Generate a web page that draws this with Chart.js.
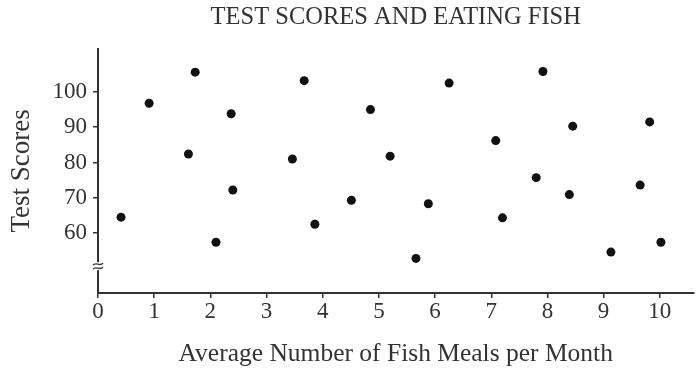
<!DOCTYPE html>
<html>
<head>
<meta charset="utf-8">
<script src="https://cdn.jsdelivr.net/npm/chart.js@4/dist/chart.umd.min.js"></script>
<style>
  html, body { margin: 0; padding: 0; background: #fff; }
  #wrap { width: 698px; height: 371px; }
</style>
</head>
<body>
<div id="wrap"><canvas id="fishChart"></canvas></div>
<script>
// fish meals per month (x) and test score (y)
let fishMeals = [0.41, 0.91, 1.73, 1.61, 2.37, 2.40, 2.10, 3.67, 3.46, 3.86,
                 4.51, 4.85, 5.20, 5.66, 5.88, 6.25, 7.08, 7.20, 7.80, 7.92,
                 8.45, 8.39, 9.13, 9.65, 9.82, 10.02];
let testScores = [64.5, 96.8, 105.6, 82.4, 93.8, 72.2, 57.4, 103.2, 81.0, 62.5,
                  69.3, 95.0, 81.8, 52.8, 68.3, 102.5, 86.2, 64.3, 75.7, 105.8,
                  90.3, 70.9, 54.6, 73.6, 91.5, 57.4];
let xTicks = [0, 1, 2, 3, 4, 5, 6, 7, 8, 9, 10];
let yTicks = [60, 70, 80, 90, 100];
let breakAt = 50.6; // where the axis break mark sits

let serif = "'Liberation Serif', 'DejaVu Serif', serif";
let textColor = "#333";
let axisColor = "#333";

let points = fishMeals.map((x, i) => ({ x: x, y: testScores[i] }));

// draws the little "≈" break on the y axis
let axisBreak = {
  id: "axisBreak",
  afterDraw(chart) {
    let c = chart.ctx;
    let y = chart.scales.y.getPixelForValue(breakAt);
    let x = chart.chartArea.left;
    c.save();
    c.fillStyle = "#fff";
    c.fillRect(x - 5, y - 4, 10, 8);
    c.strokeStyle = axisColor;
    c.lineWidth = 1.3;
    for (let dy of [-2, 2]) {
      c.beginPath();
      c.moveTo(x - 5, y + dy + 1);
      c.bezierCurveTo(x - 2, y + dy - 3, x + 2, y + dy + 3, x + 5, y + dy - 1);
      c.stroke();
    }
    c.restore();
  }
};

let ctx = document.getElementById("fishChart").getContext("2d");
let fishChart = new Chart(ctx, {
  type: "scatter",
  data: {
    datasets: [{
      label: "Students",
      data: points,
      backgroundColor: "#111",
      borderWidth: 0,
      pointRadius: 4.5,
    }],
  },
  options: {
    responsive: true,
    maintainAspectRatio: false,
    animation: false,
    devicePixelRatio: 1,
    layout: { padding: 0 },
    plugins: {
      legend: { display: false },
      tooltip: { enabled: false },
      title: {
        display: true,
        fullSize: false, // centre over the plot, not the whole canvas
        text: "TEST SCORES AND EATING FISH",
        color: textColor,
        font: { family: serif, size: 24.5, weight: "normal" },
        padding: { top: 3, bottom: 16.5 },
      },
    },
    scales: {
      x: {
        type: "linear",
        min: 0,
        max: 10.6,
        afterBuildTicks: (s) => { s.ticks = xTicks.map((v) => ({ value: v })); },
        afterFit: (s) => { s.height = 78; },
        grid: { drawOnChartArea: false, drawTicks: true, tickLength: 5, color: axisColor, lineWidth: 1.5 },
        border: { display: true, color: axisColor, width: 2 },
        ticks: { color: textColor, font: { family: serif, size: 23 }, padding: 0 },
        title: {
          display: true,
          text: "Average Number of Fish Meals per Month",
          color: textColor,
          font: { family: serif, size: 25.5 },
          padding: { top: 0, bottom: 1 },
        },
      },
      y: {
        type: "linear",
        min: 43,
        max: 112.2,
        afterBuildTicks: (s) => { s.ticks = yTicks.map((v) => ({ value: v })); },
        afterFit: (s) => { s.width = 98; },
        grid: { drawOnChartArea: false, drawTicks: true, tickLength: 5, color: axisColor, lineWidth: 1.5 },
        border: { display: true, color: axisColor, width: 2 },
        ticks: { color: textColor, font: { family: serif, size: 23 }, padding: 6 },
        title: {
          display: true,
          text: "Test Scores",
          color: textColor,
          font: { family: serif, size: 27 },
          padding: { top: 6, bottom: 0 },
        },
      },
    },
  },
  plugins: [axisBreak],
});
</script>
</body>
</html>
